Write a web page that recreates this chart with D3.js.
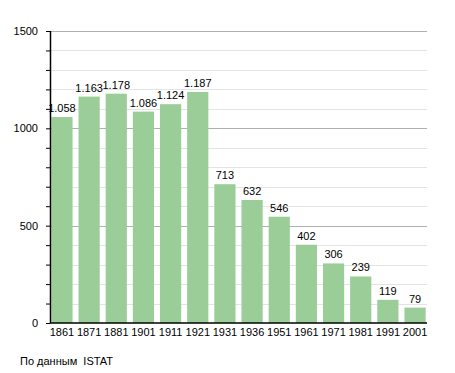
<!DOCTYPE html>
<html>
<head>
<meta charset="utf-8">
<script src="https://cdn.jsdelivr.net/npm/d3@7"></script>
<style>
body{margin:0;background:#fff;}
text{font-family:"Liberation Sans",Arial,sans-serif;font-size:11px;fill:#000;}
</style>
</head>
<body>
<svg id="chart"></svg>
<script>
var years=["1861","1871","1881","1901","1911","1921","1931","1936","1951","1961","1971","1981","1991","2001"]
var population=[1058,1163,1178,1086,1124,1187,713,632,546,402,306,239,119,79]
var labels=["1.058","1.163","1.178","1.086","1.124","1.187","713","632","546","402","306","239","119","79"]
var yTicks=[0,500,1000,1500]

var screen={width:455,height:373}
var margins={left:50,right:28,top:31,bottom:50}
var graph={
    width:screen.width-margins.left-margins.right,
    height:screen.height-margins.top-margins.bottom
}

var svg=d3.select("#chart")
    .attr("width",screen.width)
    .attr("height",screen.height)

var target=svg.append("g")
    .attr("transform","translate("+margins.left+","+margins.top+")")

var xScale=d3.scaleBand()
    .domain(years)
    .range([0,graph.width])
    .paddingInner(0.22)
    .paddingOuter(0.05)
var yScale=d3.scaleLinear()
    .domain([0,1500])
    .range([graph.height,0])

// grid lines
target.selectAll("line.grid")
    .data(d3.range(100,1501,100))
    .enter()
    .append("line")
    .attr("x1",0)
    .attr("x2",graph.width)
    .attr("y1",function(d){return Math.round(yScale(d))+0.5})
    .attr("y2",function(d){return Math.round(yScale(d))+0.5})
    .attr("stroke",function(d){return d%500==0?"#b0b0b0":"#e4e4e4"})
    .attr("stroke-width",1)

target.selectAll("rect")
    .data(population)
    .enter()
    .append("rect")
    .attr("x",function(d,i){return xScale(years[i])})
    .attr("y",function(d){return yScale(d)})
    .attr("width",xScale.bandwidth())
    .attr("height",function(d){return graph.height-yScale(d)})
    .attr("fill","#9acd98")

target.selectAll("text.val")
    .data(population)
    .enter()
    .append("text")
    .attr("x",function(d,i){return xScale(years[i])+xScale.bandwidth()/2})
    .attr("y",function(d){return yScale(d)-5})
    .attr("text-anchor","middle")
    .text(function(d,i){return labels[i]})

var yAxis=d3.axisLeft(yScale)
    .tickValues(d3.range(0,1501,100))
    .tickSize(4)
    .tickFormat(function(d){return yTicks.indexOf(d)>=0?d:""})
target.append("g").call(yAxis)
    .call(function(g){g.select(".domain").remove()})
    .call(function(g){g.selectAll("text").attr("x",-12).style("font-size","11px").style("font-family","Liberation Sans, Arial, sans-serif")})
target.append("line")
    .attr("x1",0.5).attr("x2",0.5)
    .attr("y1",0).attr("y2",graph.height)
    .attr("stroke","#000").attr("stroke-width",1.5)

var xAxis=d3.axisBottom(xScale).tickSize(0).tickPadding(5)
target.append("g")
    .attr("transform","translate(0,"+graph.height+")")
    .call(xAxis)
    .call(function(g){g.select(".domain").remove()})
    .call(function(g){g.selectAll("text").style("font-size","11px").style("font-family","Liberation Sans, Arial, sans-serif")})
target.append("line")
    .attr("x1",0).attr("x2",graph.width)
    .attr("y1",graph.height).attr("y2",graph.height)
    .attr("stroke","#000").attr("stroke-width",1.5)

svg.append("text")
    .attr("x",20)
    .attr("y",365)
    .text("По данным  ISTAT")
    .attr("xml:space","preserve")
</script>
</body>
</html>
